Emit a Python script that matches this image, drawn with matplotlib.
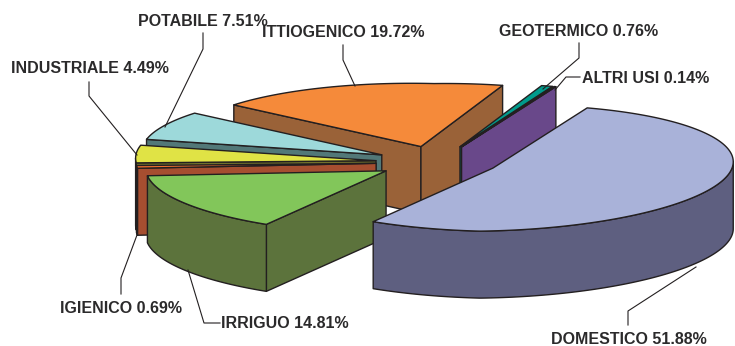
import numpy as np
import matplotlib
matplotlib.use("Agg")
import matplotlib.pyplot as plt
from matplotlib.patches import Polygon

# data, clockwise from the start of DOMESTICO
categories = ["DOMESTICO", "IRRIGUO", "IGIENICO", "INDUSTRIALE", "POTABILE", "ITTIOGENICO", "GEOTERMICO", "ALTRI USI"]
shares = [51.88, 14.81, 0.69, 4.49, 7.51, 19.72, 0.76, 0.14]
top_colors = ["#A9B2D9", "#82C65A", "#EE6C2F", "#E0E345", "#9DD9DA", "#F58A3A", "#009B8C", "#7A55A0"]
side_colors = ["#5E5F80", "#5C733C", "#A64E30", "#70702C", "#527878", "#9A6238", "#0A5F55", "#69488A"]
draw_order = ["ITTIOGENICO", "GEOTERMICO", "ALTRI USI", "POTABILE", "INDUSTRIALE", "IGIENICO", "IRRIGUO", "DOMESTICO"]
label_x = [551, 221, 60, 11, 138, 262, 499, 582]
label_y = [339.7, 323.7, 308.7, 68.7, 21.7, 32.7, 31.7, 78.7]
leaders = [
    [(696, 267), (628, 311), (628, 325)],
    [(188, 270), (204, 323), (220, 323)],
    [(137, 235), (121, 278), (121, 294)],
    [(89, 82), (89, 96), (137, 155)],
    [(203, 33), (203, 49), (165, 127)],
    [(343, 45), (343, 60), (355, 86)],
    [(579, 43), (579, 58), (543, 89)],
    [(580, 77), (566, 77), (555, 90)],
]

# view parameters
cx, cy = 437.6, 162.4
A, B, D = 240.0, 13.0, 63.0
C_right, C_left = -3.0, 6.0
explode = 0.257
depth = 67.0
start_deg = 20.0
INK = "#231F20"
TEXT = "#2B2A2B"

plt.rcParams["font.family"] = ["Liberation Sans", "DejaVu Sans"]
fig = plt.figure(figsize=(7.35, 3.46), dpi=100)
ax = fig.add_axes([0, 0, 1, 1])
ax.set_xlim(0, 735)
ax.set_ylim(346, 0)
ax.axis("off")


def project(X, Y):
    C = C_right if X > 0 else C_left
    return np.array([A * X + B * Y, C * X - D * Y])


def face(pts, color, z):
    ax.add_patch(Polygon(pts, closed=True, facecolor=color, edgecolor=INK, lw=1.0, joinstyle="round", zorder=z))


edges = np.concatenate([[0], np.cumsum(shares)]) * 3.6 + start_deg
for name in draw_order:
    i = categories.index(name)
    t0, t1 = np.radians(edges[i]), np.radians(edges[i + 1])
    tm = (t0 + t1) / 2
    apex = np.array([cx, cy]) + explode * project(np.sin(tm), np.cos(tm))
    th = np.linspace(t0, t1, max(int(np.degrees(t1 - t0) * 2), 2))
    rim = np.array([apex + project(np.sin(t), np.cos(t)) for t in th])
    down = np.array([0, depth])
    z = draw_order.index(name) * 10 + 1
    # radial face at the start of the slice: edge apex -> rim runs leftwards
    if rim[0, 0] < apex[0]:
        face([apex, rim[0], rim[0] + down, apex + down], side_colors[i], z)
    # radial face at the end of the slice: edge rim -> apex runs leftwards
    if apex[0] < rim[-1, 0]:
        face([rim[-1], apex, apex + down, rim[-1] + down], side_colors[i], z)
    # outer wall: the part of the rim that faces the viewer
    front = np.diff(rim[:, 0]) < 0
    if front.any():
        k = np.where(front)[0]
        seg = rim[k[0]:k[-1] + 2]
        face(np.vstack([seg, (seg + down)[::-1]]), side_colors[i], z + 1)
    face(np.vstack([[apex], rim]), top_colors[i], z + 2)

for i, name in enumerate(categories):
    pts = np.array(leaders[i])
    ax.plot(pts[:, 0], pts[:, 1], color=INK, lw=0.8, zorder=100)
    ax.text(label_x[i], label_y[i], f"{name} {shares[i]:.2f}%", fontsize=11.5, fontweight="bold",
            color=TEXT, ha="left", va="center", zorder=101)

fig.savefig("out.png", dpi=100, facecolor="white")
